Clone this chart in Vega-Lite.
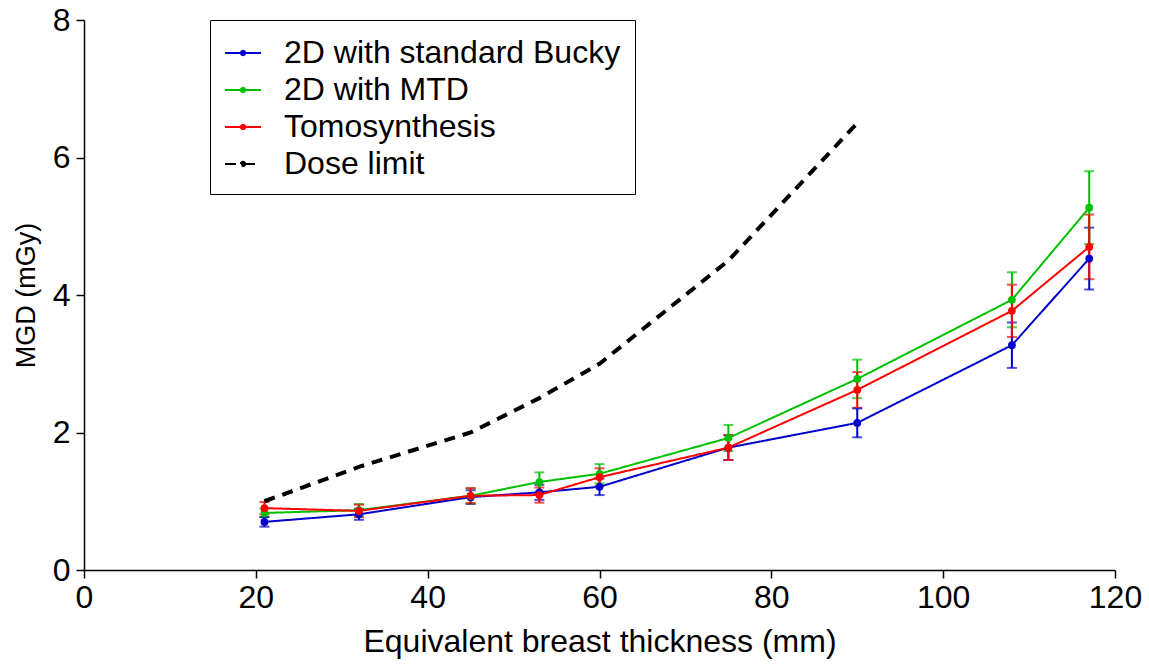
{
  "$schema": "https://vega.github.io/schema/vega-lite/v6.json",
  "width": 1031,
  "height": 550,
  "autosize": {"type": "none"},
  "padding": {"left": 84, "top": 20, "right": 34, "bottom": 100},
  "background": "white",
  "config": {
    "view": {"stroke": null},
    "font": "Liberation Sans",
    "axis": {
      "domainColor": "black",
      "domainWidth": 1.5,
      "tickColor": "black",
      "tickWidth": 1.5,
      "tickSize": 8,
      "grid": false,
      "labelFlush": false,
      "labelOverlap": false,
      "labelColor": "black",
      "titleColor": "black",
      "titleFontWeight": "normal",
      "labelFont": "Liberation Sans",
      "titleFont": "Liberation Sans"
    },
    "legend": {
      "orient": "none",
      "legendX": 126,
      "legendY": 0,
      "padding": 14,
      "strokeColor": "black",
      "fillColor": "white",
      "symbolType": "M-1,0H1M-0.12,0A0.12,0.12,0,1,1,0.12,0A0.12,0.12,0,1,1,-0.12,0",
      "symbolSize": 1296,
      "symbolStrokeWidth": 2,
      "symbolOpacity": 1,
      "labelOffset": 22,
      "labelLimit": 0,
      "rowPadding": 2,
      "labelFont": "Liberation Sans",
      "labelFontSize": 32,
      "labelColor": "black"
    }
  },
  "data": {
    "values": [
      {"series": "2D with standard Bucky", "x": 21, "y": 0.70, "lo": 0.63, "hi": 0.77},
      {"series": "2D with standard Bucky", "x": 32, "y": 0.81, "lo": 0.73, "hi": 0.89},
      {"series": "2D with standard Bucky", "x": 45, "y": 1.06, "lo": 0.96, "hi": 1.16},
      {"series": "2D with standard Bucky", "x": 53, "y": 1.13, "lo": 1.02, "hi": 1.24},
      {"series": "2D with standard Bucky", "x": 60, "y": 1.21, "lo": 1.09, "hi": 1.33},
      {"series": "2D with standard Bucky", "x": 75, "y": 1.78, "lo": 1.60, "hi": 1.96},
      {"series": "2D with standard Bucky", "x": 90, "y": 2.14, "lo": 1.93, "hi": 2.35},
      {"series": "2D with standard Bucky", "x": 108, "y": 3.27, "lo": 2.94, "hi": 3.60},
      {"series": "2D with standard Bucky", "x": 117, "y": 4.53, "lo": 4.08, "hi": 4.98},
      {"series": "2D with MTD", "x": 21, "y": 0.83, "lo": 0.77, "hi": 0.89},
      {"series": "2D with MTD", "x": 32, "y": 0.87, "lo": 0.78, "hi": 0.96},
      {"series": "2D with MTD", "x": 45, "y": 1.08, "lo": 0.97, "hi": 1.19},
      {"series": "2D with MTD", "x": 53, "y": 1.28, "lo": 1.14, "hi": 1.42},
      {"series": "2D with MTD", "x": 60, "y": 1.40, "lo": 1.26, "hi": 1.54},
      {"series": "2D with MTD", "x": 75, "y": 1.92, "lo": 1.73, "hi": 2.11},
      {"series": "2D with MTD", "x": 90, "y": 2.78, "lo": 2.50, "hi": 3.06},
      {"series": "2D with MTD", "x": 108, "y": 3.93, "lo": 3.53, "hi": 4.33},
      {"series": "2D with MTD", "x": 117, "y": 5.27, "lo": 4.74, "hi": 5.80},
      {"series": "Tomosynthesis", "x": 21, "y": 0.90, "lo": 0.81, "hi": 0.99},
      {"series": "Tomosynthesis", "x": 32, "y": 0.86, "lo": 0.77, "hi": 0.95},
      {"series": "Tomosynthesis", "x": 45, "y": 1.08, "lo": 0.97, "hi": 1.19},
      {"series": "Tomosynthesis", "x": 53, "y": 1.09, "lo": 0.98, "hi": 1.20},
      {"series": "Tomosynthesis", "x": 60, "y": 1.35, "lo": 1.22, "hi": 1.48},
      {"series": "Tomosynthesis", "x": 75, "y": 1.78, "lo": 1.60, "hi": 1.96},
      {"series": "Tomosynthesis", "x": 90, "y": 2.62, "lo": 2.36, "hi": 2.88},
      {"series": "Tomosynthesis", "x": 108, "y": 3.77, "lo": 3.39, "hi": 4.15},
      {"series": "Tomosynthesis", "x": 117, "y": 4.70, "lo": 4.23, "hi": 5.17},
      {"series": "Dose limit", "x": 21, "y": 1.0},
      {"series": "Dose limit", "x": 32, "y": 1.5},
      {"series": "Dose limit", "x": 45, "y": 2.0},
      {"series": "Dose limit", "x": 53, "y": 2.5},
      {"series": "Dose limit", "x": 60, "y": 3.0},
      {"series": "Dose limit", "x": 75, "y": 4.5},
      {"series": "Dose limit", "x": 90, "y": 6.5}
    ]
  },
  "encoding": {
    "x": {
      "field": "x", "type": "quantitative",
      "scale": {"domain": [0, 120], "nice": false},
      "axis": {"title": "Equivalent breast thickness (mm)", "values": [0, 20, 40, 60, 80, 100, 120], "format": "d", "labelFontSize": 32, "titleFontSize": 32, "labelPadding": 4, "titlePadding": 13}
    },
    "color": {"field": "series", "type": "nominal", "title": null,
      "scale": {"domain": ["2D with standard Bucky", "2D with MTD", "Tomosynthesis", "Dose limit"], "range": ["#0000CC", "#00C000", "#FF0000", "#000000"]}}
  },
  "layer": [
    {
      "transform": [{"filter": "datum.series !== 'Dose limit'"}],
      "mark": {"type": "errorbar", "ticks": {"size": 10}, "thickness": 2},
      "encoding": {
        "y": {"field": "lo", "type": "quantitative", "scale": {"domain": [0, 8], "nice": false},
          "axis": {"title": "MGD (mGy)", "values": [0, 2, 4, 6, 8], "format": "d", "labelFontSize": 32, "titleFontSize": 27, "labelPadding": 6, "titlePadding": 12}},
        "y2": {"field": "hi"}
      }
    },
    {
      "transform": [{"filter": "datum.series !== 'Dose limit'"}],
      "mark": {"type": "line", "strokeWidth": 2},
      "encoding": {
        "y": {"field": "y", "type": "quantitative"},
        "strokeDash": {"field": "series", "type": "nominal", "title": null,
          "scale": {"domain": ["2D with standard Bucky", "2D with MTD", "Tomosynthesis", "Dose limit"], "range": [[1, 0], [1, 0], [1, 0], [11, 8]]}}
      }
    },
    {
      "transform": [{"filter": "datum.series === 'Dose limit'"}],
      "mark": {"type": "line", "strokeWidth": 4},
      "encoding": {
        "y": {"field": "y", "type": "quantitative"},
        "strokeDash": {"field": "series", "type": "nominal", "title": null,
          "scale": {"domain": ["2D with standard Bucky", "2D with MTD", "Tomosynthesis", "Dose limit"], "range": [[1, 0], [1, 0], [1, 0], [11, 8]]}}
      }
    },
    {
      "transform": [{"filter": "datum.series !== 'Dose limit'"}],
      "mark": {"type": "circle", "size": 60, "opacity": 1},
      "encoding": {
        "y": {"field": "y", "type": "quantitative"}
      }
    }
  ]
}
